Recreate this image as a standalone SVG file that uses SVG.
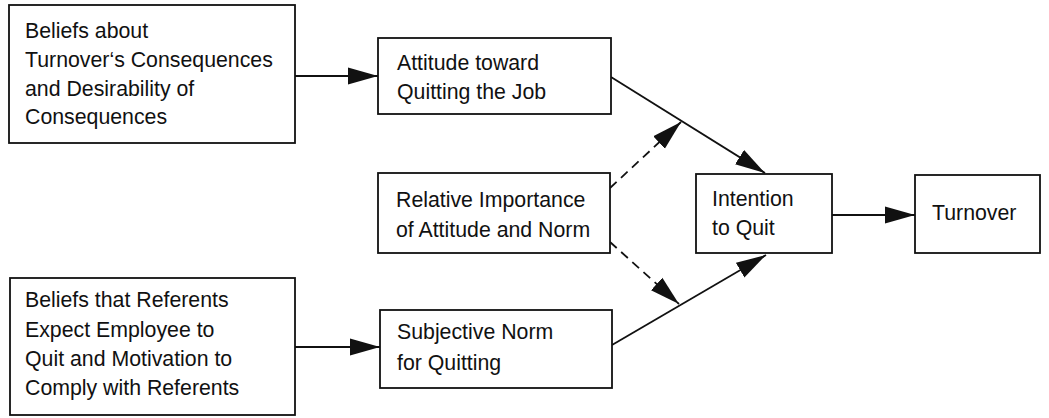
<svg xmlns="http://www.w3.org/2000/svg" width="1049" height="418" viewBox="0 0 1049 418">
  <style>
    .box { fill: #ffffff; stroke: #111111; stroke-width: 1.8; }
    .lbl { font-family: "Liberation Sans", Arial, Helvetica, sans-serif; font-size: 21.3px; fill: #111111; }
    .edge { fill: none; stroke: #111111; stroke-width: 1.8; }
    .dash { stroke-dasharray: 9 6; }
  </style>
  <defs>
    <marker id="head" markerUnits="userSpaceOnUse" markerWidth="32" markerHeight="18" refX="30" refY="9" orient="auto">
      <path d="M0,0.5 L30,9 L0,17.5 Z" fill="#111111"/>
    </marker>
  </defs>
  <rect width="1049" height="418" fill="#ffffff"/>

  <g id="connectors">
    <line class="edge" x1="295" y1="76" x2="378" y2="76" marker-end="url(#head)"/>
    <line class="edge" x1="295" y1="347" x2="380" y2="347" marker-end="url(#head)"/>
    <line class="edge" x1="611" y1="77" x2="765" y2="173" marker-end="url(#head)"/>
    <line class="edge" x1="612" y1="345" x2="766" y2="255" marker-end="url(#head)"/>
    <line class="edge dash" x1="610" y1="188" x2="681" y2="122" marker-end="url(#head)"/>
    <line class="edge dash" x1="610" y1="242" x2="679" y2="304" marker-end="url(#head)"/>
    <line class="edge" x1="832" y1="215" x2="915" y2="215" marker-end="url(#head)"/>
  </g>

  <g id="beliefs-consequences">
    <rect class="box" x="9" y="5" width="286" height="138"/>
    <text class="lbl" x="25" y="38">Beliefs about</text>
    <text class="lbl" x="25" y="67">Turnover‘s Consequences</text>
    <text class="lbl" x="25" y="96">and Desirability of</text>
    <text class="lbl" x="25" y="124">Consequences</text>
  </g>

  <g id="attitude">
    <rect class="box" x="378" y="38" width="233" height="76"/>
    <text class="lbl" x="397" y="70">Attitude toward</text>
    <text class="lbl" x="397" y="99">Quitting the Job</text>
  </g>

  <g id="relative-importance">
    <rect class="box" x="378" y="173" width="232" height="80"/>
    <text class="lbl" x="396" y="207">Relative Importance</text>
    <text class="lbl" x="396" y="237">of Attitude and Norm</text>
  </g>

  <g id="beliefs-referents">
    <rect class="box" x="10" y="278" width="285" height="137"/>
    <text class="lbl" x="25" y="307">Beliefs that Referents</text>
    <text class="lbl" x="25" y="337">Expect Employee to</text>
    <text class="lbl" x="25" y="366">Quit and Motivation to</text>
    <text class="lbl" x="25" y="395">Comply with Referents</text>
  </g>

  <g id="subjective-norm">
    <rect class="box" x="380" y="310" width="232" height="78"/>
    <text class="lbl" x="397" y="339">Subjective Norm</text>
    <text class="lbl" x="397" y="370">for Quitting</text>
  </g>

  <g id="intention">
    <rect class="box" x="696" y="174" width="136" height="79"/>
    <text class="lbl" x="712" y="206">Intention</text>
    <text class="lbl" x="712" y="235">to Quit</text>
  </g>

  <g id="turnover">
    <rect class="box" x="915" y="175" width="125" height="78"/>
    <text class="lbl" x="932" y="220">Turnover</text>
  </g>
</svg>
